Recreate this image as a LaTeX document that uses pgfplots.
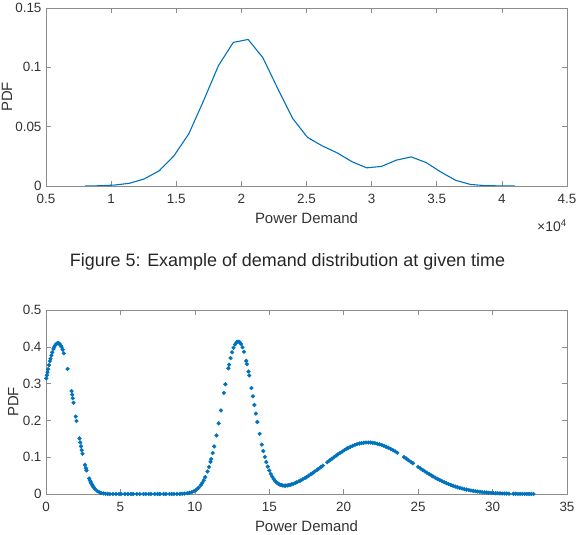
\documentclass[border=0pt]{standalone}
\usepackage{pgfplots}
\pgfplotsset{compat=1.18}
\usepackage{fontspec}
\setmainfont{Liberation Sans}

\definecolor{mblue}{rgb}{0,0.447,0.741}
\definecolor{axgray}{rgb}{0.55,0.55,0.55}
\definecolor{txtgray}{rgb}{0.2,0.2,0.2}

\pgfplotsset{
  mstyle/.style={
    scale only axis, width=521bp,
    axis line style={axgray, line width=0.6bp},
    tick style={axgray, line width=0.6bp},
    major tick length=5bp,
    tick align=inside,
    xtick pos=both, ytick pos=both,
    ticklabel style={font=\fontsize{13.5}{16}\selectfont, text=txtgray},
    xticklabel style={yshift=-5bp},
    yticklabel style={xshift=-1bp},
    label style={font=\fontsize{15}{18}\selectfont, text=txtgray},
    /pgf/number format/assume math mode=true,
    scaled y ticks=false,
    yticklabel style={/pgf/number format/fixed},
    xlabel style={at={(axis description cs:0.5,0)}, anchor=base},
  }
}

\begin{document}
\begin{tikzpicture}
\path[use as bounding box] (0,0) rectangle (582bp,535bp);

% demand distribution at a given time
\begin{axis}[mstyle,
  at={(46bp,349bp)}, anchor=south west, height=178bp,
  xmin=5000, xmax=45000, ymin=0, ymax=0.15,
  xtick={5000,10000,...,45000}, ytick={0,0.05,0.1,0.15},
  scaled x ticks=base 10:-4,
  xtick scale label code/.code={×10\textsuperscript{4}},
  every x tick scale label/.style={at={(rel axis cs:1,0)}, anchor=base east,
    inner sep=0pt, yshift=-41bp, font=\fontsize{14}{16}\selectfont, text=txtgray},
  xlabel={Power Demand}, ylabel={PDF},
  xlabel style={yshift=-38bp},
  ylabel style={at={(axis description cs:-0.075,0.5)}, anchor=center},
]
\addplot[mblue, line width=1.1bp] table {
x y
8000 0
9138 0.0002
10276 0.0008
11414 0.0023
12552 0.006
13690 0.0128
14828 0.0255
15966 0.044
17104 0.072
18242 0.1015
19380 0.121
20518 0.1235
21656 0.108
22794 0.082
23932 0.057
25070 0.041
26208 0.0338
27346 0.028
28484 0.0205
29622 0.0153
30760 0.0165
31898 0.0218
33036 0.0245
34174 0.0198
35312 0.0118
36450 0.0048
37588 0.0013
38726 0.0003
39864 0.0001
41002 0
};
\end{axis}

\node[anchor=base, font=\fontsize{18}{21}\selectfont, text=black!85]
  at (287.5bp,268bp) {Figure 5: Example of demand distribution at given time};

% sampled demand density
\begin{axis}[mstyle,
  at={(46bp,41bp)}, anchor=south west, height=184bp,
  xmin=0, xmax=35, ymin=0, ymax=0.5,
  xtick={0,5,...,35}, ytick={0,0.1,...,0.5},
  xlabel={Power Demand}, ylabel={PDF},
  xlabel style={yshift=-37bp},
  ylabel style={at={(axis description cs:-0.063,0.5)}, anchor=center},
]
\addplot[only marks, mark=*, mark size=1.9bp, mblue, mark options={draw=none, fill=mblue}] table {
x y
0.02 0.3143
0.06 0.3228
0.1 0.331
0.14 0.339
0.2 0.3503
0.26 0.361
0.3 0.3676
0.36 0.3768
0.42 0.385
0.5 0.3942
0.55 0.399
0.62 0.4042
0.7 0.4082
0.78 0.41
0.85 0.4096
0.92 0.4074
1.0 0.4029
1.05 0.399
1.12 0.3921
1.2 0.3823
1.45 0.3398
1.72 0.2797
1.76 0.270
1.8 0.2602
1.85 0.2478
2.0 0.2106
2.05 0.1983
2.25 0.1512
2.3 0.1401
2.35 0.1294
2.4 0.1191
2.45 0.1093
2.62 0.0792
2.68 0.070
2.72 0.0642
2.9 0.0421
2.95 0.0371
3.0 0.0325
3.05 0.0283
3.1 0.0246
3.15 0.0212
3.2 0.0182
3.3 0.0133
3.45 0.0079
3.6 0.0044
3.7 0.0029
3.85 0.0015
4.0 0.0007
4.15 0.0003
4.3 0.0001
4.5 0
4.7 0
4.9 0
5.05 0
5.3 0
5.5 0
5.7 0
5.85 0
6.1 0
6.3 0
6.55 0
6.7 0
6.9 0
7.05 0
7.3 0
7.5 0
7.65 0
7.9 0
8.05 0
8.3 0
8.45 0
8.6 0
8.8 0.0002
9.0 0.0004
9.15 0.0007
9.3 0.0011
9.5 0.0022
9.65 0.0034
9.8 0.0052
9.95 0.0079
10.1 0.0117
10.25 0.017
10.4 0.0242
10.5 0.0302
10.6 0.0374
10.7 0.0459
10.85 0.0613
10.95 0.0735
11.05 0.0874
11.1 0.0949
11.2 0.1113
11.3 0.1293
11.45 0.1592
11.6 0.192
11.75 0.227
11.95 0.2747
12.05 0.2981
12.25 0.3417
12.3 0.3515
12.4 0.3695
12.5 0.385
12.6 0.3974
12.7 0.4065
12.8 0.4121
12.9 0.414
13.0 0.4128
13.1 0.4076
13.2 0.3988
13.3 0.3866
13.45 0.3618
13.5 0.3527
13.6 0.3328
13.65 0.322
13.8 0.288
13.9 0.2655
14.0 0.2419
14.1 0.2186
14.2 0.1957
14.35 0.1635
14.5 0.1343
14.6 0.1168
14.7 0.1009
14.8 0.0868
14.9 0.0744
15.0 0.0636
15.1 0.0544
15.2 0.0467
15.3 0.0403
15.4 0.0352
15.5 0.0311
15.6 0.028
15.7 0.0257
15.8 0.0242
15.9 0.0232
16.0 0.0227
16.1 0.0228
16.2 0.0232
16.3 0.024
16.4 0.025
16.5 0.0261
16.6 0.0275
16.75 0.030
16.85 0.0317
17.0 0.0347
17.1 0.0366
17.25 0.040
17.4 0.0435
17.5 0.046
17.65 0.0498
17.8 0.0538
17.9 0.0565
18.05 0.0608
18.2 0.0651
18.3 0.0681
18.45 0.0726
18.6 0.0771
18.9 0.0864
19.05 0.091
19.2 0.0956
19.35 0.1001
19.5 0.1045
19.6 0.1074
19.75 0.1116
19.9 0.1156
20.05 0.1194
20.2 0.123
20.3 0.1252
20.45 0.1283
20.6 0.131
20.75 0.1335
20.9 0.1355
21.05 0.1372
21.2 0.1385
21.35 0.1394
21.5 0.1399
21.65 0.14
21.8 0.1398
21.95 0.139
22.1 0.1381
22.25 0.1368
22.4 0.1351
22.55 0.1332
22.7 0.1309
22.85 0.1284
23.0 0.1256
23.15 0.1225
23.3 0.1193
23.45 0.1158
23.6 0.1121
24.05 0.1003
24.2 0.0961
24.35 0.0919
24.5 0.0876
24.65 0.0834
25.0 0.0736
25.15 0.0695
25.3 0.0654
25.45 0.0614
25.6 0.0575
25.75 0.0538
25.9 0.0501
26.0 0.0477
26.15 0.0443
26.3 0.041
26.45 0.0379
26.6 0.0349
26.75 0.032
26.9 0.0294
27.05 0.0269
27.2 0.0245
27.35 0.0223
27.5 0.0202
27.65 0.0183
27.8 0.0165
27.95 0.0149
28.1 0.0134
28.25 0.012
28.4 0.0107
28.55 0.0096
28.7 0.0085
28.85 0.0076
29.0 0.0067
29.15 0.0059
29.3 0.0052
29.45 0.0046
29.6 0.004
29.75 0.0035
29.9 0.003
30.05 0.0026
30.2 0.0023
30.35 0.002
30.5 0.0017
30.65 0.0015
30.8 0.0013
30.95 0.0011
31.1 0.0009
31.4 0.0007
31.55 0.0006
31.7 0.0005
31.85 0.0004
32.0 0.0003
32.15 0.0003
32.3 0.0002
32.45 0.0002
32.6 0.0002
32.75 0.0001
};
\end{axis}
\end{tikzpicture}
\end{document}
